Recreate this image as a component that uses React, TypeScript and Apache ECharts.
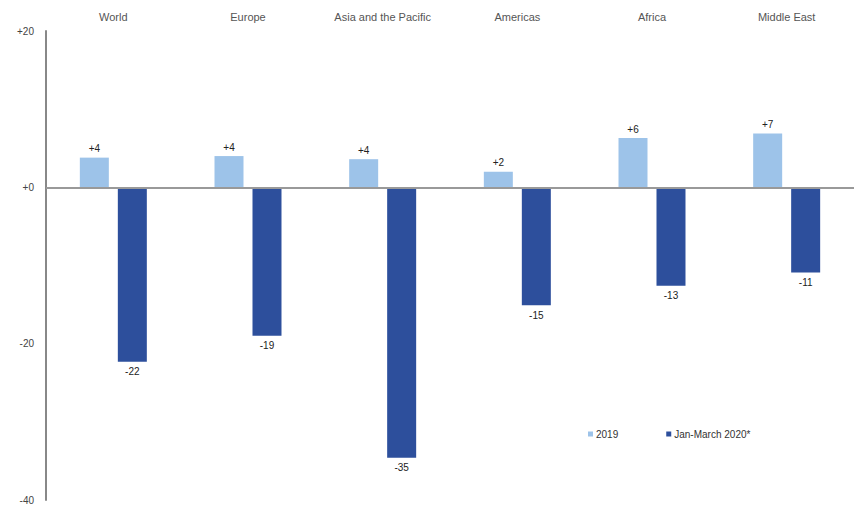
import React, { useEffect, useRef } from "react";
import * as echarts from "echarts";

const categories = ["World", "Europe", "Asia and the Pacific", "Americas", "Africa", "Middle East"];
const values2019 = [3.8, 4.0, 3.6, 2.0, 6.3, 6.9];
const valuesQ1 = [-22.3, -19.0, -34.6, -15.1, -12.6, -10.9];
const labels2019 = ["+4", "+4", "+4", "+2", "+6", "+7"];
const labelsQ1 = ["-22", "-19", "-35", "-15", "-13", "-11"];
const yTicks: Record<string, string> = { "20": "+20", "0": "+0", "-20": "-20", "-40": "-40" };
const seriesNames = ["2019", "Jan-March 2020*"];

export default function App() {
  const ref = useRef<HTMLDivElement>(null);
  useEffect(() => {
    if (!ref.current) return;
    const chart = echarts.init(ref.current, undefined, { renderer: "svg" });
    const font = "'Liberation Sans', Arial, sans-serif";
    chart.setOption({
      animation: false,
      backgroundColor: "#ffffff",
      textStyle: { fontFamily: font },
      grid: { left: 46, top: 31, width: 810, height: 469 },
      legend: {
        left: 583,
        top: 424,
        itemWidth: 5,
        itemHeight: 5,
        itemGap: 48,
        icon: "rect",
        textStyle: { fontSize: 10, color: "#333", fontFamily: font, padding: [0, 0, 0, -2] },
        data: seriesNames,
      },
      xAxis: {
        type: "category",
        data: categories,
        position: "top",
        axisLine: { show: false },
        axisTick: { show: false },
        axisLabel: { fontSize: 11, color: "#555", margin: 9 },
      },
      yAxis: {
        type: "value",
        min: -40,
        max: 20,
        interval: 20,
        axisLine: { show: true, lineStyle: { color: "#888", width: 2 } },
        axisTick: { show: false },
        splitLine: { show: false },
        axisLabel: {
          fontSize: 10,
          color: "#444",
          margin: 12,
          formatter: (v: number) => yTicks[String(v)] ?? String(v),
        },
      },
      series: [
        {
          name: seriesNames[0],
          type: "bar",
          data: values2019,
          barWidth: 29,
          barGap: "31%",
          itemStyle: { color: "#9dc3e9" },
          label: {
            show: true,
            position: "top",
            fontSize: 10,
            color: "#222",
            distance: 4,
            formatter: (p: any) => labels2019[p.dataIndex],
          },
          markLine: {
            silent: true,
            symbol: "none",
            label: { show: false },
            lineStyle: { color: "#999", width: 2, type: "solid" },
            data: [{ yAxis: 0 }],
          },
        },
        {
          name: seriesNames[1],
          type: "bar",
          data: valuesQ1,
          barWidth: 29,
          itemStyle: { color: "#2d4f9c" },
          label: {
            show: true,
            position: "bottom",
            fontSize: 10,
            color: "#222",
            distance: 5,
            formatter: (p: any) => labelsQ1[p.dataIndex],
          },
        },
      ],
    });
    return () => chart.dispose();
  }, []);
  return <div ref={ref} style={{ position: "fixed", left: 0, top: 0, width: 854, height: 509 }} />;
}
